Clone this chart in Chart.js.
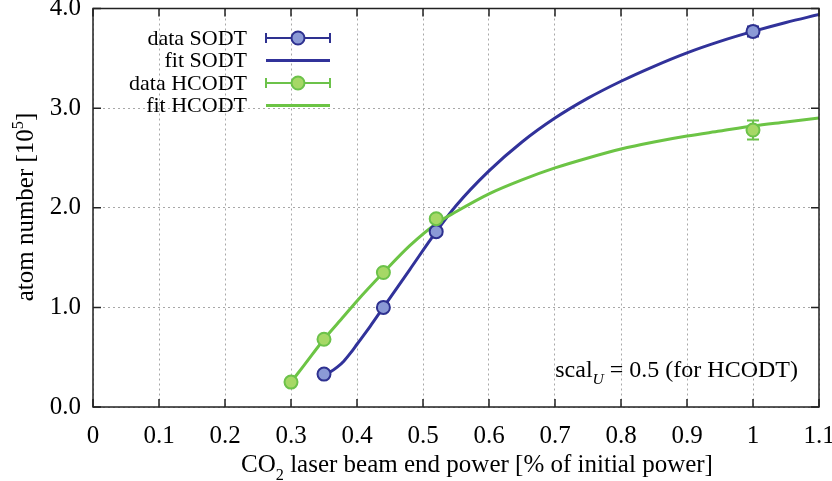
<!DOCTYPE html>
<html>
<head>
<meta charset="utf-8">
<script src="https://cdn.jsdelivr.net/npm/chart.js@4.4.1/dist/chart.umd.min.js"></script>
<style>
    html, body { margin: 0; padding: 0; background: #fff; }
    #wrap { width: 832px; height: 481px; }
</style>
</head>
<body>
<div id="wrap"><canvas id="chart" width="832" height="481"></canvas></div>
<script>
    // axis ticks
    const xTicks = [0, 0.1, 0.2, 0.3, 0.4, 0.5, 0.6, 0.7, 0.8, 0.9, 1.0, 1.1];
    const xTickLabels = ['0', '0.1', '0.2', '0.3', '0.4', '0.5', '0.6', '0.7', '0.8', '0.9', '1', '1.1'];
    const yTicks = [0, 1, 2, 3, 4];
    const yTickLabels = ['0.0', '1.0', '2.0', '3.0', '4.0'];

    // measured data (atom number in 1e5)
    const sodtX = [0.35, 0.44, 0.52, 1.0];
    const sodtY = [0.33, 1.0, 1.76, 3.77];
    const sodtErr = [0.02, 0.03, 0.03, 0.05];
    const hcodtX = [0.30, 0.35, 0.44, 0.52, 1.0];
    const hcodtY = [0.25, 0.68, 1.35, 1.89, 2.78];
    const hcodtErr = [0.02, 0.03, 0.03, 0.03, 0.095];

    // fit curves
    const fitSodtX = [0.35, 0.36, 0.37, 0.38, 0.39, 0.40, 0.42, 0.44, 0.48, 0.52, 0.55, 0.6, 0.65, 0.7, 0.75, 0.8, 0.85, 0.9, 0.95, 1.0, 1.05, 1.1];
    const fitSodtY = [0.33, 0.355, 0.40, 0.46, 0.54, 0.63, 0.81, 1.0, 1.38, 1.76, 2.02, 2.37, 2.66, 2.90, 3.10, 3.27, 3.42, 3.555, 3.67, 3.77, 3.86, 3.94];
    const fitHcodtX = [0.30, 0.32, 0.35, 0.38, 0.40, 0.44, 0.48, 0.52, 0.55, 0.6, 0.65, 0.7, 0.75, 0.8, 0.85, 0.9, 0.95, 1.0, 1.05, 1.1];
    const fitHcodtY = [0.25, 0.42, 0.68, 0.91, 1.065, 1.35, 1.62, 1.84, 1.96, 2.14, 2.28, 2.40, 2.50, 2.59, 2.66, 2.72, 2.77, 2.82, 2.86, 2.90];

    const COLORS = {
        sodtLine: '#31329a', sodtFill: '#8b9ad6', sodtEdge: '#2e3190',
        hcodtLine: '#6cc445', hcodtFill: '#a6d866', hcodtEdge: '#6cc24a',
        grid: '#a8a8a8', frame: '#222'
    };
    const FONT = 'Liberation Serif, Times New Roman, serif';

    function pts(xs, ys) { return xs.map(function(x, i) { return { x: x, y: ys[i] }; }); }

    // text with sub/superscript parts
    function drawRich(ctx, parts, x, y, size, align) {
        var widths = parts.map(function(p) {
            ctx.font = (p.italic ? 'italic ' : '') + (p.sub || p.sup ? size * 0.65 : size) + 'px ' + FONT;
            return ctx.measureText(p.t).width;
        });
        var total = widths.reduce(function(a, b) { return a + b; }, 0);
        var cx = align === 'center' ? x - total / 2 : (align === 'right' ? x - total : x);
        ctx.textAlign = 'left';
        ctx.textBaseline = 'alphabetic';
        parts.forEach(function(p, i) {
            ctx.font = (p.italic ? 'italic ' : '') + (p.sub || p.sup ? size * 0.65 : size) + 'px ' + FONT;
            var dy = p.sub ? size * 0.3 : (p.sup ? -size * 0.4 : 0);
            ctx.fillText(p.t, cx, y + dy);
            cx += widths[i];
        });
    }

    function errorBars(chart, xs, ys, errs, color) {
        var ctx = chart.ctx, sx = chart.scales.x, sy = chart.scales.y;
        ctx.save();
        ctx.strokeStyle = color;
        ctx.lineWidth = 2;
        xs.forEach(function(x, i) {
            var px = sx.getPixelForValue(x);
            var top = sy.getPixelForValue(ys[i] + errs[i]);
            var bot = sy.getPixelForValue(ys[i] - errs[i]);
            ctx.beginPath();
            ctx.moveTo(px, top); ctx.lineTo(px, bot);
            ctx.moveTo(px - 6, top); ctx.lineTo(px + 6, top);
            ctx.moveTo(px - 6, bot); ctx.lineTo(px + 6, bot);
            ctx.stroke();
        });
        ctx.restore();
    }

    const decorations = {
        id: 'decorations',
        beforeDatasetsDraw: function(chart) {
            errorBars(chart, sodtX, sodtY, sodtErr, COLORS.sodtEdge);
            errorBars(chart, hcodtX, hcodtY, hcodtErr, COLORS.hcodtEdge);
        },
        afterDraw: function(chart) {
            var ctx = chart.ctx, a = chart.chartArea, sx = chart.scales.x, sy = chart.scales.y;
            ctx.save();
            // frame + inward ticks on all sides
            ctx.strokeStyle = COLORS.frame;
            ctx.lineWidth = 1.5;
            ctx.strokeRect(a.left, a.top, a.right - a.left, a.bottom - a.top);
            ctx.beginPath();
            xTicks.forEach(function(v) {
                var px = sx.getPixelForValue(v);
                ctx.moveTo(px, a.bottom); ctx.lineTo(px, a.bottom - 8);
                ctx.moveTo(px, a.top); ctx.lineTo(px, a.top + 8);
            });
            yTicks.forEach(function(v) {
                var py = sy.getPixelForValue(v);
                ctx.moveTo(a.left, py); ctx.lineTo(a.left + 8, py);
                ctx.moveTo(a.right, py); ctx.lineTo(a.right - 8, py);
            });
            ctx.stroke();

            // axis titles
            ctx.fillStyle = '#000';
            drawRich(ctx, [{ t: 'CO' }, { t: '2', sub: true }, { t: ' laser beam end power [% of initial power]' }], 477, 472, 25, 'center');
            ctx.save();
            ctx.translate(33, 207);
            ctx.rotate(-Math.PI / 2);
            drawRich(ctx, [{ t: 'atom number [10' }, { t: '5', sup: true }, { t: ']' }], 0, 0, 25, 'center');
            ctx.restore();

            // annotation
            drawRich(ctx, [{ t: 'scal' }, { t: 'U', sub: true, italic: true }, { t: ' = 0.5 (for HCODT)' }], 798, 377, 24, 'right');

            // legend
            var rows = [
                { label: 'data SODT', line: COLORS.sodtEdge, fill: COLORS.sodtFill, marker: true },
                { label: 'fit SODT', line: COLORS.sodtLine },
                { label: 'data HCODT', line: COLORS.hcodtEdge, fill: COLORS.hcodtFill, marker: true },
                { label: 'fit HCODT', line: COLORS.hcodtLine }
            ];
            rows.forEach(function(r, i) {
                var y = 38 + i * 22.5;
                ctx.fillStyle = '#000';
                ctx.font = '22px ' + FONT;
                ctx.textAlign = 'right';
                ctx.textBaseline = 'middle';
                ctx.fillText(r.label, 247, y + 1);
                ctx.strokeStyle = r.line;
                ctx.lineWidth = r.marker ? 2 : 3;
                ctx.beginPath();
                ctx.moveTo(266, y); ctx.lineTo(330, y);
                if (r.marker) {
                    ctx.moveTo(266, y - 5); ctx.lineTo(266, y + 5);
                    ctx.moveTo(330, y - 5); ctx.lineTo(330, y + 5);
                }
                ctx.stroke();
                if (r.marker) {
                    ctx.beginPath();
                    ctx.arc(298, y, 6.5, 0, Math.PI * 2);
                    ctx.fillStyle = r.fill;
                    ctx.fill();
                    ctx.lineWidth = 2;
                    ctx.stroke();
                }
            });
            ctx.restore();
        }
    };

    new Chart(document.getElementById('chart'), {
        type: 'scatter',
        data: {
            datasets: [
                { label: 'data HCODT', data: pts(hcodtX, hcodtY), showLine: false, pointRadius: 6.5, pointBorderWidth: 2,
                  backgroundColor: COLORS.hcodtFill, borderColor: COLORS.hcodtEdge },
                { label: 'data SODT', data: pts(sodtX, sodtY), showLine: false, pointRadius: 6.5, pointBorderWidth: 2,
                  backgroundColor: COLORS.sodtFill, borderColor: COLORS.sodtEdge },
                { label: 'fit HCODT', data: pts(fitHcodtX, fitHcodtY), showLine: true, pointRadius: 0, borderWidth: 3,
                  borderColor: COLORS.hcodtLine, cubicInterpolationMode: 'monotone' },
                { label: 'fit SODT', data: pts(fitSodtX, fitSodtY), showLine: true, pointRadius: 0, borderWidth: 3,
                  borderColor: COLORS.sodtLine, cubicInterpolationMode: 'monotone' }
            ]
        },
        options: {
            responsive: false,
            animation: false,
            layout: { padding: { top: 7, right: 13, left: 0, bottom: 0 } },
            plugins: { legend: { display: false }, tooltip: { enabled: false } },
            scales: {
                x: {
                    type: 'linear', min: 0, max: 1.1,
                    afterBuildTicks: function(s) { s.ticks = xTicks.map(function(v) { return { value: v }; }); },
                    afterFit: function(s) { s.height = 74; s.paddingLeft = 0; s.paddingRight = 0; },
                    ticks: { callback: function(v, i) { return xTickLabels[i]; }, color: '#000', font: { family: FONT, size: 25 },
                             padding: 14, maxRotation: 0, autoSkip: false },
                    grid: { color: COLORS.grid, lineWidth: 1, drawTicks: false },
                    border: { display: false, dash: [2, 3] }
                },
                y: {
                    type: 'linear', min: 0, max: 4,
                    afterBuildTicks: function(s) { s.ticks = yTicks.map(function(v) { return { value: v }; }); },
                    afterFit: function(s) { s.width = 93; s.paddingTop = 0; s.paddingBottom = 0; },
                    ticks: { callback: function(v, i) { return yTickLabels[i]; }, color: '#000', font: { family: FONT, size: 25 },
                             padding: 12, autoSkip: false },
                    grid: { color: COLORS.grid, lineWidth: 1, drawTicks: false },
                    border: { display: false, dash: [2, 3] }
                }
            }
        },
        plugins: [decorations]
    });
</script>
</body>
</html>
